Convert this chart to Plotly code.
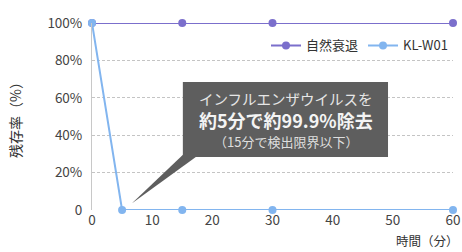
import plotly.graph_objects as go

# Data
time_min = [0, 15, 30, 60]
natural = [100, 100, 100, 100]
kl_time = [0, 5, 15, 30, 60]
kl_w01 = [100, 0, 0, 0, 0]
series_names = ["自然衰退", "KL-W01"]
y_ticks = [0, 20, 40, 60, 80, 100]
y_ticktext = ["0", "20%", "40%", "60%", "80%", "100%"]
x_ticks = [0, 10, 20, 30, 40, 50, 60]

FONT = "Noto Sans CJK JP"
PURPLE = "#7b6fcc"
BLUE = "#82b5ef"

fig = go.Figure()
fig.add_trace(go.Scatter(x=time_min, y=natural, name=series_names[0], mode="lines+markers",
                         line=dict(color=PURPLE, width=2), marker=dict(size=8, color=PURPLE),
                         cliponaxis=False))
fig.add_trace(go.Scatter(x=kl_time, y=kl_w01, name=series_names[1], mode="lines+markers",
                         line=dict(color=BLUE, width=2), marker=dict(size=8, color=BLUE),
                         cliponaxis=False))

# callout box and pointer
fig.add_shape(type="path", xref="x", yref="y",
              path="M 6.6 3.5 L 15.6 31 L 18.4 31 Z",
              fillcolor="#5e5e5e", line=dict(width=0), layer="above")
fig.add_shape(type="rect", xref="x", yref="y", x0=15.1, x1=49.2, y0=28.3, y1=68.4,
              fillcolor="#5e5e5e", line=dict(width=0), layer="above")
fig.add_annotation(x=32.2, y=59.6, xref="x", yref="y", text="インフルエンザウイルスを",
                   showarrow=False, font=dict(family=FONT, size=14.5, color="#e6e6e6"))
fig.add_annotation(x=32.2, y=48.3, xref="x", yref="y", text="<b>約5分で約99.9%除去</b>",
                   showarrow=False, font=dict(family=FONT, size=18, color="#f4f4f4"))
fig.add_annotation(x=32.2, y=36.6, xref="x", yref="y", text="（15分で検出限界以下）",
                   showarrow=False, font=dict(family=FONT, size=13, color="#dedede"))

# x axis title
fig.add_annotation(x=1.0, y=-0.165, xref="paper", yref="paper", text="時間（分）",
                   xanchor="right", yanchor="middle", showarrow=False, xshift=8,
                   font=dict(family=FONT, size=12.5, color="#333333"))

fig.update_layout(
    width=462, height=252,
    margin=dict(l=92, r=9, t=23, b=42, autoexpand=False),
    paper_bgcolor="white", plot_bgcolor="white",
    font=dict(family=FONT, size=13, color="#444444"),
    showlegend=True,
    legend=dict(orientation="h", x=1.0, xanchor="right", y=0.88, yanchor="middle",
                bgcolor="rgba(0,0,0,0)", font=dict(family=FONT, size=13, color="#333333"),
                itemwidth=30, tracegroupgap=0),
    xaxis=dict(range=[0, 60], tickvals=x_ticks, showgrid=False, zeroline=False,
               showline=False, ticks="", automargin=False,
               tickfont=dict(family=FONT, size=13.5, color="#444444"),
               fixedrange=True),
    yaxis=dict(range=[0, 100], tickvals=y_ticks, ticktext=y_ticktext, automargin=False,
               showgrid=True, gridcolor="#c4c4c4", griddash="3px,2px", gridwidth=1,
               zeroline=False, showline=True, linecolor="#c8c8c8", linewidth=1, ticks="",
               ticklabelstandoff=6, fixedrange=True,
               tickfont=dict(family=FONT, size=13.5, color="#444444"),
               title=dict(text="残存率（%）", font=dict(family=FONT, size=14, color="#333333"),
                          standoff=22)),
)

fig.write_html("out.html", config={"displayModeBar": False},
               post_script="document.body.style.margin='0px';")
